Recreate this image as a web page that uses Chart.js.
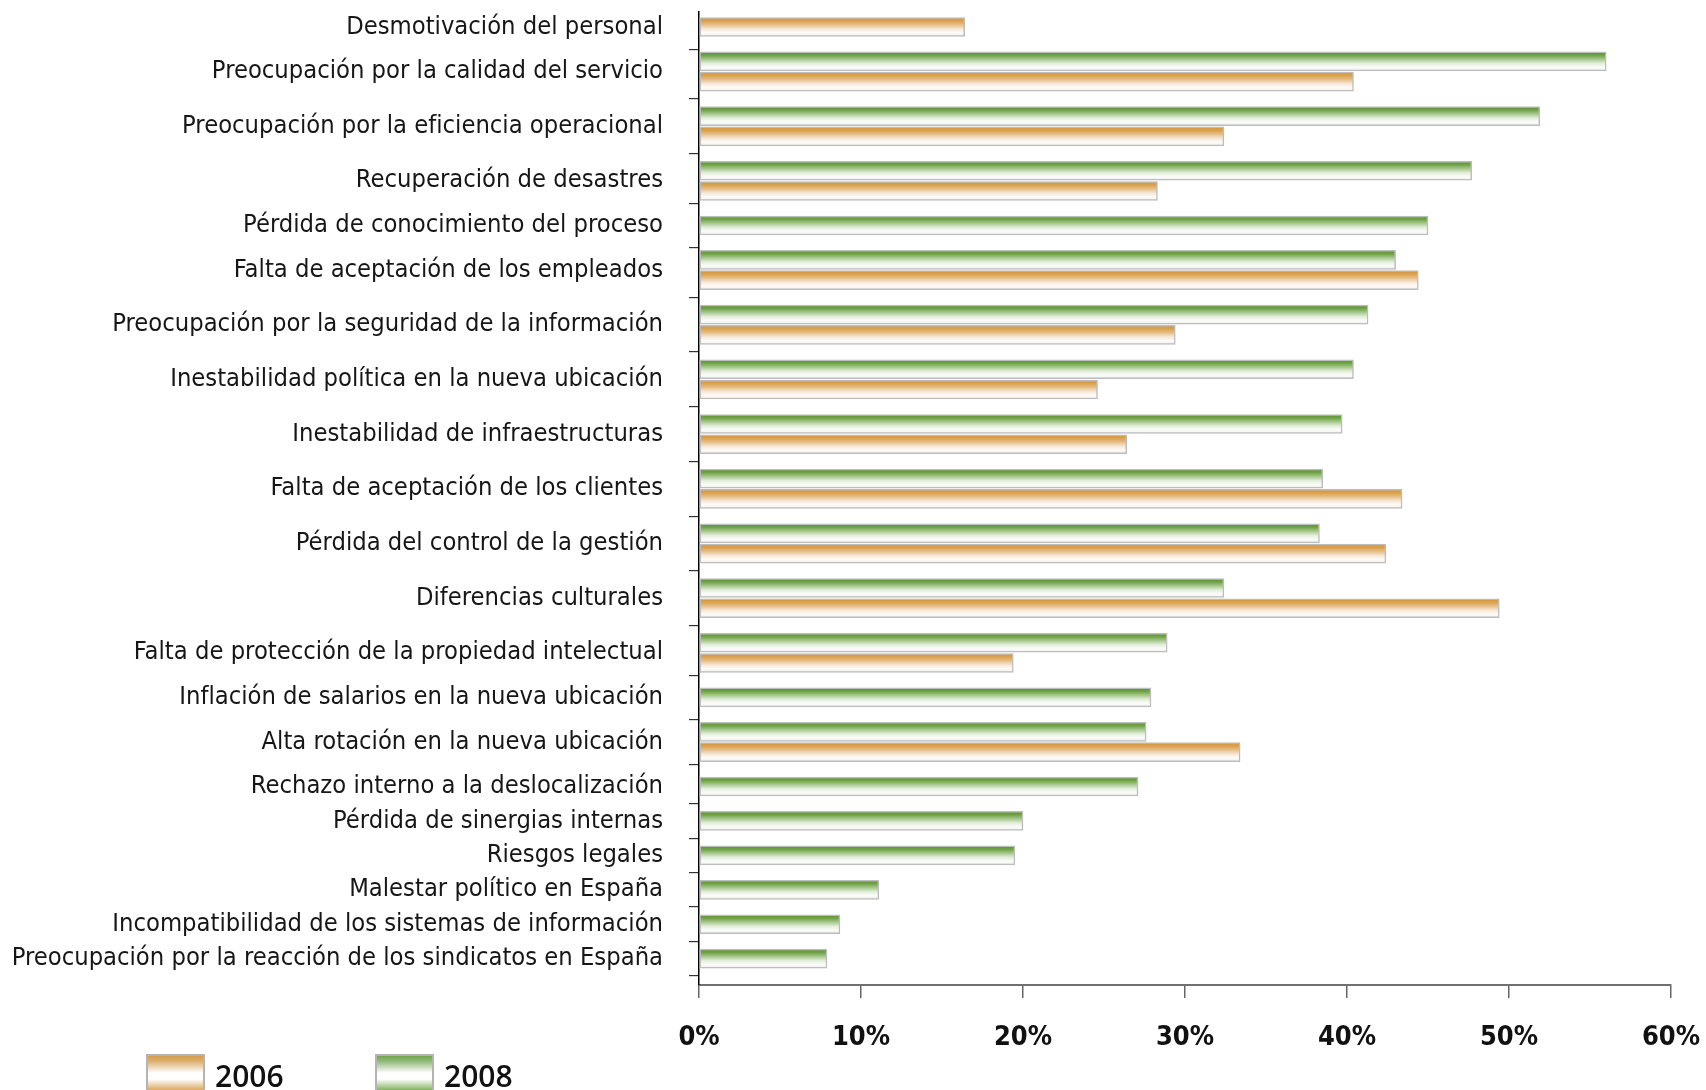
<!DOCTYPE html>
<html lang="es">
<head>
<meta charset="utf-8">
<title>Riesgos percibidos de la deslocalización, 2006 y 2008</title>
<script src="https://cdn.jsdelivr.net/npm/chart.js@4.4.1/dist/chart.umd.min.js"></script>
<style>
  html, body { margin: 0; padding: 0; background: #fff; }
  #wrap { width: 1706px; height: 1090px; }
</style>
</head>
<body>
<div id="wrap"><canvas id="chart" width="1706" height="1090"></canvas></div>
<script>
// ── Data ──────────────────────────────────────────────────────
const categories = [
  'Desmotivación del personal',
  'Preocupación por la calidad del servicio',
  'Preocupación por la eficiencia operacional',
  'Recuperación de desastres',
  'Pérdida de conocimiento del proceso',
  'Falta de aceptación de los empleados',
  'Preocupación por la seguridad de la información',
  'Inestabilidad política en la nueva ubicación',
  'Inestabilidad de infraestructuras',
  'Falta de aceptación de los clientes',
  'Pérdida del control de la gestión',
  'Diferencias culturales',
  'Falta de protección de la propiedad intelectual',
  'Inflación de salarios en la nueva ubicación',
  'Alta rotación en la nueva ubicación',
  'Rechazo interno a la deslocalización',
  'Pérdida de sinergias internas',
  'Riesgos legales',
  'Malestar político en España',
  'Incompatibilidad de los sistemas de información',
  'Preocupación por la reacción de los sindicatos en España',
];
const values2006 = [16.4, 40.4, 32.4, 28.3, null, 44.4, 29.4, 24.6, 26.4, 43.4, 42.4, 49.4, 19.4, null, 33.4, null, null, null, null, null, null];
const values2008 = [null, 56.0, 51.9, 47.7, 45.0, 43.0, 41.3, 40.4, 39.7, 38.5, 38.3, 32.4, 28.9, 27.9, 27.6, 27.1, 20.0, 19.5, 11.1, 8.7, 7.9];
const seriesNames = ['2006', '2008'];
const xTicks = [0, 10, 20, 30, 40, 50, 60];

// ── Layout of the rows: a category only takes room for the bars it has ──
const SLOT = 1;     // one bar
const GAP = 0.7;    // extra space between categories
const BAR_THICKNESS = 19;

const rows = [];
const bars2006 = [];
const bars2008 = [];
let cursor = 0;
categories.forEach((label, i) => {
  const start = cursor;
  if (values2008[i] != null) { bars2008.push({ x: values2008[i], y: cursor }); cursor += SLOT; }
  if (values2006[i] != null) { bars2006.push({ x: values2006[i], y: cursor }); cursor += SLOT; }
  rows.push({ label, pos: (start + cursor - SLOT) / 2 });
  cursor += GAP;
});
const lastPos = cursor - GAP - SLOT;

// ── Fonts ─────────────────────────────────────────────────────
function hasFont(name) {
  const c = document.createElement('canvas').getContext('2d');
  const s = 'Preocupación por la reacción 0123456789%';
  c.font = '40px monospace';
  const a = c.measureText(s).width;
  c.font = `40px "${name}", monospace`;
  return c.measureText(s).width !== a;
}
const narrow = hasFont('Liberation Sans Narrow');
const labelFont = narrow
  ? { family: '"Liberation Sans Narrow"', size: 30 }
  : { family: '"DejaVu Sans Condensed", "Open Sans", sans-serif', size: 25.3 };
const tickFont = narrow
  ? { family: '"Liberation Sans Narrow"', size: 32, weight: 'bold' }
  : { family: '"DejaVu Sans Condensed", "Open Sans", sans-serif', size: 27, weight: 'bold' };

// ── Gradients ─────────────────────────────────────────────────
const ORANGE = [[0, '#d3943a'], [0.18, '#daa14d'], [0.38, '#e6bd85'], [0.6, '#f6e6d5'], [0.8, '#fefbf8'], [1, '#f5eee8']];
const GREEN  = [[0, '#5b9030'], [0.18, '#6fa345'], [0.38, '#a4c68b'], [0.6, '#e1edd8'], [0.8, '#fbfcfa'], [1, '#eef1ec']];
const ORANGE_KEY = [[0, '#d39a45'], [0.15, '#dcae6c'], [0.45, '#ffffff'], [0.6, '#ffffff'], [0.9, '#d7a256'], [1, '#d39a45']];
const GREEN_KEY  = [[0, '#6da244'], [0.15, '#8fb878'], [0.45, '#ffffff'], [0.6, '#ffffff'], [0.9, '#7aab55'], [1, '#6da244']];

function barFill(stops) {
  return (ctx) => {
    const { chart, raw } = ctx;
    if (!chart.chartArea || !raw) return stops[1][1];
    const mid = chart.scales.y.getPixelForValue(raw.y);
    const h = BAR_THICKNESS / 2;
    const g = chart.ctx.createLinearGradient(0, mid - h, 0, mid + h);
    stops.forEach(([o, c]) => g.addColorStop(o, c));
    return g;
  };
}

// ── Legend (bottom left, gradient swatches) ───────────────────
const swatchLegend = {
  id: 'swatchLegend',
  afterDraw(chart) {
    const { ctx } = chart;
    const items = [
      { text: seriesNames[0], stops: ORANGE_KEY, x: 147 },
      { text: seriesNames[1], stops: GREEN_KEY, x: 376 },
    ];
    const top = 1055, w = 57, h = 40;
    ctx.save();
    for (const it of items) {
      const g = ctx.createLinearGradient(0, top, 0, top + h);
      it.stops.forEach(([o, c]) => g.addColorStop(o, c));
      ctx.fillStyle = g;
      ctx.fillRect(it.x, top, w, h);
      ctx.strokeStyle = '#b4b4b4';
      ctx.lineWidth = 2;
      ctx.strokeRect(it.x, top, w, h);
      ctx.fillStyle = '#111';
      ctx.font = '600 30px "Open Sans", sans-serif';
      ctx.textBaseline = 'alphabetic';
      ctx.fillText(it.text, it.x + 68, 1087);
    }
    ctx.restore();
  },
};

// ── Chart ─────────────────────────────────────────────────────
const barStyle = {
  barThickness: BAR_THICKNESS,
  borderWidth: 1.5,
  borderColor: '#bdbdbd',
  borderSkipped: false,
};

new Chart(document.getElementById('chart'), {
  type: 'bar',
  data: {
    datasets: [
      { label: seriesNames[1], data: bars2008, backgroundColor: barFill(GREEN), ...barStyle },
      { label: seriesNames[0], data: bars2006, backgroundColor: barFill(ORANGE), ...barStyle },
    ],
  },
  options: {
    indexAxis: 'y',
    responsive: false,
    animation: false,
    events: [],
    layout: { padding: { top: 12, right: 35, bottom: 0, left: 0 } },
    plugins: { legend: { display: false }, tooltip: { enabled: false } },
    scales: {
      x: {
        type: 'linear',
        position: 'bottom',
        min: xTicks[0],
        max: xTicks[xTicks.length - 1],
        afterBuildTicks: (s) => { s.ticks = xTicks.map(v => ({ value: v })); },
        ticks: { callback: (v) => v + '%', font: tickFont, color: '#111', padding: 24 },
        grid: { drawOnChartArea: false, tickLength: 13, color: '#666', lineWidth: 1.5 },
        border: { color: '#707070', width: 2 },
        afterFit: (s) => { s.height = 105; s.paddingLeft = 0; s.paddingRight = 0; },
      },
      y: {
        type: 'linear',
        reverse: true,
        stacked: true,
        offset: false,
        bounds: 'data',
        min: -0.74,
        max: lastPos + 1.3,
        afterBuildTicks: (s) => { s.ticks = rows.map(r => ({ value: r.pos })); },
        ticks: {
          autoSkip: false,
          callback: (v, i) => rows[i].label,
          font: labelFont,
          color: '#161616',
          padding: 26,
        },
        grid: { drawOnChartArea: false, offset: true, tickLength: 10, color: '#333', lineWidth: 1.2 },
        border: { color: '#000', width: 1.5 },
        afterFit: (s) => { s.width = 699; s.paddingTop = 0; s.paddingBottom = 0; },
      },
    },
  },
  plugins: [swatchLegend],
});
</script>
</body>
</html>
